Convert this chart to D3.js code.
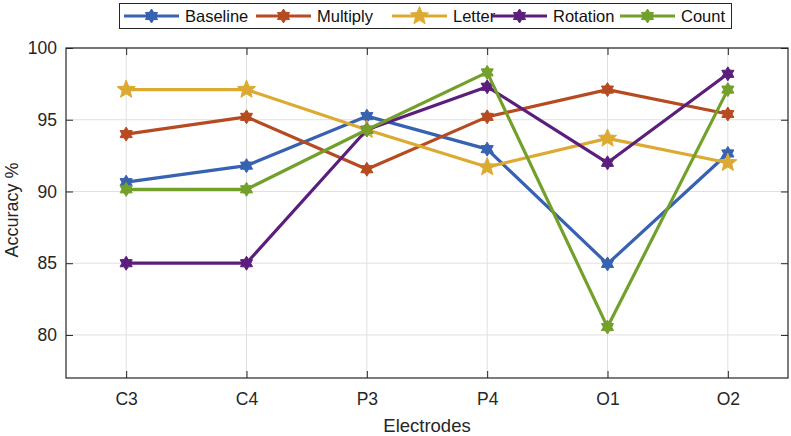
<!DOCTYPE html>
<html>
<head>
<meta charset="utf-8">
<script src="https://cdn.jsdelivr.net/npm/d3@7.9.0/dist/d3.min.js"></script>
<style>
  body { margin: 0; background: #fff; }
  svg { display: block; font-family: "Liberation Sans", Arial, sans-serif; }
</style>
</head>
<body>
<svg id="chart" width="791" height="436"></svg>
<script>
const electrodes = ["C3", "C4", "P3", "P4", "O1", "O2"];
const yTicks = [80, 85, 90, 95, 100];

const baseline = [90.65, 91.8, 95.25, 92.95, 84.95, 92.65];
const multiply = [94.0, 95.2, 91.55, 95.2, 97.1, 95.4];
const letter   = [97.1, 97.1, 94.3, 91.7, 93.7, 92.0];
const rotation = [85.0, 85.0, 94.3, 97.3, 92.0, 98.2];
const count    = [90.15, 90.15, 94.3, 98.3, 80.55, 97.1];

const seriesNames = ["Baseline", "Multiply", "Letter", "Rotation", "Count"];
const seriesValues = [baseline, multiply, letter, rotation, count];
const seriesColors = ["#3761b1", "#b64b22", "#dcaa31", "#5c1e7c", "#72a02b"];
const seriesMarker = ["hex", "hex", "pent", "hex", "hex"];

const svg = d3.select("#chart");
const margin = { top: 48, right: 3, bottom: 58, left: 66 };
const width = 791 - margin.left - margin.right;
const height = 436 - margin.top - margin.bottom;
const g = svg.append("g").attr("transform", `translate(${margin.left},${margin.top})`);

const xScale = d3.scaleLinear().domain([0.5, 6.5]).range([0, width]);
const yScale = d3.scaleLinear().domain([77, 100]).range([height, 0]);

// grid
g.append("g").selectAll("line").data(yTicks).enter().append("line")
  .attr("x1", 0).attr("x2", width)
  .attr("y1", d => yScale(d)).attr("y2", d => yScale(d))
  .attr("stroke", "#e0e0e0").attr("stroke-width", 1);
g.append("g").selectAll("line").data(electrodes).enter().append("line")
  .attr("x1", (d, i) => xScale(i + 1)).attr("x2", (d, i) => xScale(i + 1))
  .attr("y1", 0).attr("y2", height)
  .attr("stroke", "#e0e0e0").attr("stroke-width", 1);

// axes (ticks inside, box on)
const tick = 7;
const xAxis = d3.axisBottom(xScale).tickValues(d3.range(1, 7))
  .tickFormat(d => electrodes[d - 1]).tickSizeInner(-tick).tickSizeOuter(0).tickPadding(15);
const yAxis = d3.axisLeft(yScale).tickValues(yTicks).tickSizeInner(-tick).tickSizeOuter(0).tickPadding(9);

const xg = g.append("g").attr("transform", `translate(0,${height})`).call(xAxis);
const yg = g.append("g").call(yAxis);
const xTop = g.append("g").call(d3.axisTop(xScale).tickValues(d3.range(1, 7)).tickSize(-tick).tickFormat(""));
const yRight = g.append("g").attr("transform", `translate(${width},0)`)
  .call(d3.axisRight(yScale).tickValues(yTicks).tickSize(-tick).tickFormat(""));

[xg, yg, xTop, yRight].forEach(a => {
  a.select(".domain").remove();
  a.selectAll("line").attr("stroke", "#262626");
  a.selectAll("text").attr("font-size", 17.5).attr("fill", "#262626")
    .attr("font-family", "Liberation Sans, Arial, sans-serif");
});

g.append("rect").attr("width", width).attr("height", height)
  .attr("fill", "none").attr("stroke", "#262626").attr("stroke-width", 1.2);

// marker paths
function starPath(points, outer, inner) {
  const pts = [];
  for (let k = 0; k < points * 2; k++) {
    const r = k % 2 === 0 ? outer : inner;
    const a = -Math.PI / 2 + k * Math.PI / points;
    pts.push([r * Math.cos(a), r * Math.sin(a)]);
  }
  return "M" + pts.map(p => p[0].toFixed(2) + "," + p[1].toFixed(2)).join("L") + "Z";
}
const markerShape = {
  hex: starPath(6, 7, 4.2),
  pent: starPath(5, 9.5, 4.2)
};

const line = d3.line().x((d, i) => xScale(i + 1)).y(d => yScale(d));

seriesValues.forEach((vals, s) => {
  g.append("path")
    .datum(vals)
    .attr("fill", "none")
    .attr("stroke", seriesColors[s])
    .attr("stroke-width", 3.2)
    .attr("stroke-linejoin", "round")
    .attr("d", line);
  g.selectAll(".m" + s).data(vals).enter().append("path")
    .attr("class", "m" + s)
    .attr("transform", (d, i) => `translate(${xScale(i + 1)},${yScale(d)})`)
    .attr("d", markerShape[seriesMarker[s]])
    .attr("fill", seriesColors[s])
    .attr("stroke", seriesColors[s])
    .attr("stroke-width", 1);
});

// axis labels
svg.append("text")
  .attr("x", margin.left + width / 2).attr("y", 432)
  .attr("text-anchor", "middle").attr("font-size", 18.5).attr("fill", "#262626")
  .text("Electrodes");
svg.append("text")
  .attr("transform", `translate(18,${margin.top + height / 2 - 3}) rotate(-90)`)
  .attr("text-anchor", "middle").attr("font-size", 18).attr("fill", "#262626")
  .text("Accuracy %");

// legend
const legend = svg.append("g");
legend.append("rect")
  .attr("x", 119.5).attr("y", 3.5).attr("width", 612).attr("height", 25)
  .attr("fill", "#fff").attr("stroke", "#262626").attr("stroke-width", 1);
const legendX = [124, 256, 392, 492, 620];
seriesNames.forEach((name, s) => {
  const row = legend.append("g").attr("transform", `translate(${legendX[s]},16)`);
  row.append("line").attr("x1", 0).attr("x2", 55).attr("y1", 0).attr("y2", 0)
    .attr("stroke", seriesColors[s]).attr("stroke-width", 3.2);
  row.append("path").attr("transform", "translate(27.5,0)")
    .attr("d", markerShape[seriesMarker[s]])
    .attr("fill", seriesColors[s]).attr("stroke", seriesColors[s]);
  row.append("text").attr("x", 61).attr("y", 6)
    .attr("font-size", 16.5).attr("fill", "#111").text(name);
});
</script>
</body>
</html>
